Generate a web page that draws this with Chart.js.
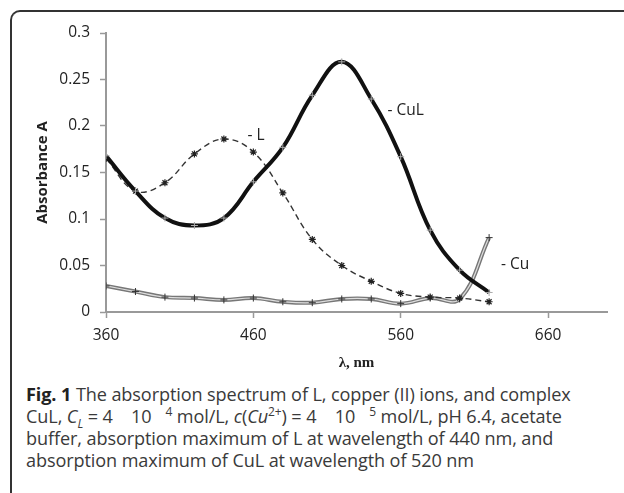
<!DOCTYPE html>
<html>
<head>
<meta charset="utf-8">
<script src="https://cdn.jsdelivr.net/npm/chart.js@4"></script>
<style>
  html, body { margin: 0; padding: 0; background: #fff; width: 624px; height: 493px; overflow: hidden; }
  #frame {
    position: absolute; left: 10px; top: 10px; width: 700px; height: 520px;
    border-left: 2px solid #333; border-top: 2px solid #333;
    border-top-left-radius: 10px; border-bottom-left-radius: 10px;
    box-sizing: border-box;
  }
  #myChart { position: absolute; left: 0; top: 0; }
  #caption {
    position: absolute; left: 26px; top: 383px; width: 598px;
    font-family: "Open Sans", sans-serif; font-size: 18.1px; line-height: 22px;
    color: #3a3a3a; white-space: nowrap; letter-spacing: -0.1px;
  }
  #caption b { color: #222; }
  #caption sub, #caption sup { font-size: 12px; line-height: 0; }
</style>
</head>
<body>
<div id="frame"></div>
<canvas id="myChart" width="624" height="380"></canvas>
<div id="caption">
  <b>Fig. 1</b> The absorption spectrum of L, copper (II) ions, and complex<br>
  CuL, <i>C<sub>L</sub></i>&nbsp;=&nbsp;4&nbsp;&nbsp;&nbsp;&nbsp;10&nbsp;&nbsp;&nbsp;<sup>4</sup> mol/L, <i>c</i>(<i>Cu</i><sup>2+</sup>)&nbsp;=&nbsp;4&nbsp;&nbsp;&nbsp;&nbsp;10&nbsp;&nbsp;&nbsp;<sup>5</sup> mol/L, pH 6.4, acetate<br>
  buffer, absorption maximum of L at wavelength of 440 nm, and<br>
  absorption maximum of CuL at wavelength of 520 nm
</div>
<script>
// wavelengths (nm), one reading every 20 nm
const wavelengths = [360, 380, 400, 420, 440, 460, 480, 500, 520, 540, 560, 580, 600, 620];

// absorbance values
const absL   = [0.165, 0.130, 0.139, 0.170, 0.186, 0.172, 0.128, 0.078, 0.050, 0.033, 0.020, 0.016, 0.015, 0.011];
const absCuL = [0.168, 0.130, 0.101, 0.093, 0.101, 0.140, 0.177, 0.233, 0.269, 0.229, 0.167, 0.088, 0.045, 0.021];
const absCu  = [0.028, 0.022, 0.016, 0.015, 0.013, 0.015, 0.011, 0.010, 0.014, 0.014, 0.009, 0.015, 0.014, 0.080];

// axis ticks
const xTicks = [360, 460, 560, 660];
const yTicks = [0, 0.05, 0.1, 0.15, 0.2, 0.25, 0.3];

// series labels placed next to the curves (data coordinates)
const seriesLabels = ['- L', '- CuL', '- Cu'];
const labelX = [456, 551, 628];
const labelY = [0.190, 0.217, 0.0505];

const toPoints = ys => wavelengths.map((x, i) => ({x: x, y: ys[i]}));

// draw the "- L" / "- CuL" / "- Cu" tags
const tagPlugin = {
    id: 'tags',
    afterDatasetsDraw(chart) {
        const ctx = chart.ctx;
        const xs = chart.scales.x, ys = chart.scales.y;
        ctx.save();
        ctx.font = '15.5px "Open Sans"';
        ctx.fillStyle = '#222';
        ctx.textBaseline = 'middle';
        for (let i = 0; i < seriesLabels.length; i++) {
            ctx.fillText(seriesLabels[i], xs.getPixelForValue(labelX[i]), ys.getPixelForValue(labelY[i]));
        }
        ctx.restore();
    }
};

const chartData = {
    datasets: [
        {
            label: 'CuL',
            data: toPoints(absCuL),
            borderColor: '#111',
            borderWidth: 4,
            tension: 0.4,
            pointStyle: 'cross',
            pointRadius: 3.5,
            pointBorderColor: '#aaa',
            pointBorderWidth: 1,
            order: 0
        },
        {
            label: 'L',
            data: toPoints(absL),
            borderColor: '#333',
            borderWidth: 1.4,
            borderDash: [6, 4],
            tension: 0.4,
            pointStyle: 'star',
            pointRadius: 3.5,
            pointBorderColor: '#222',
            pointBorderWidth: 1.2,
            order: 1
        },
        {   // light core of the double Cu line
            label: 'Cu core',
            data: toPoints(absCu),
            borderColor: '#ddd',
            borderWidth: 1.2,
            tension: 0.4,
            pointStyle: 'cross',
            pointRadius: 3.5,
            pointBorderColor: '#333',
            pointBorderWidth: 1,
            order: 2
        },
        {
            label: 'Cu',
            data: toPoints(absCu),
            borderColor: '#777',
            borderWidth: 4,
            tension: 0.4,
            pointRadius: 0,
            order: 3
        }
    ]
};

const tickFont = {family: '"Open Sans"', size: 15.5};

const config = {
    type: 'line',
    data: chartData,
    plugins: [tagPlugin],
    options: {
        responsive: false,
        animation: false,
        layout: {padding: {top: 33, right: 17, left: 0, bottom: 0}},
        plugins: {legend: {display: false}, tooltip: {enabled: false}},
        scales: {
            x: {
                type: 'linear',
                min: 360,
                max: 700,
                afterBuildTicks: s => { s.ticks = xTicks.map(v => ({value: v})); },
                afterFit: s => { s.height = 68; },
                ticks: {font: tickFont, color: '#222', padding: 8, maxRotation: 0, callback: v => String(v)},
                grid: {drawOnChartArea: false, color: '#999', tickLength: 6, tickWidth: 1.5},
                border: {display: true, color: '#999', width: 2},
                title: {
                    display: true,
                    text: 'λ, nm',
                    font: {family: '"Liberation Serif"', size: 15, weight: 'bold'},
                    color: '#222',
                    padding: {top: 0, bottom: 8}
                }
            },
            y: {
                min: 0,
                max: 0.3,
                afterBuildTicks: s => { s.ticks = yTicks.map(v => ({value: v})); },
                afterFit: s => { s.width = 106; },
                ticks: {font: tickFont, color: '#222', padding: 10, callback: v => String(+v.toFixed(2))},
                grid: {drawOnChartArea: false, color: '#999', tickLength: 6, tickWidth: 1.5},
                border: {display: true, color: '#999', width: 2},
                title: {
                    display: true,
                    text: 'Absorbance A',
                    font: {family: '"Open Sans"', size: 15, weight: 'bold'},
                    color: '#222',
                    padding: {top: 34, bottom: 0}
                }
            }
        }
    }
};

const myChart = new Chart(document.getElementById('myChart'), config);
</script>
</body>
</html>
